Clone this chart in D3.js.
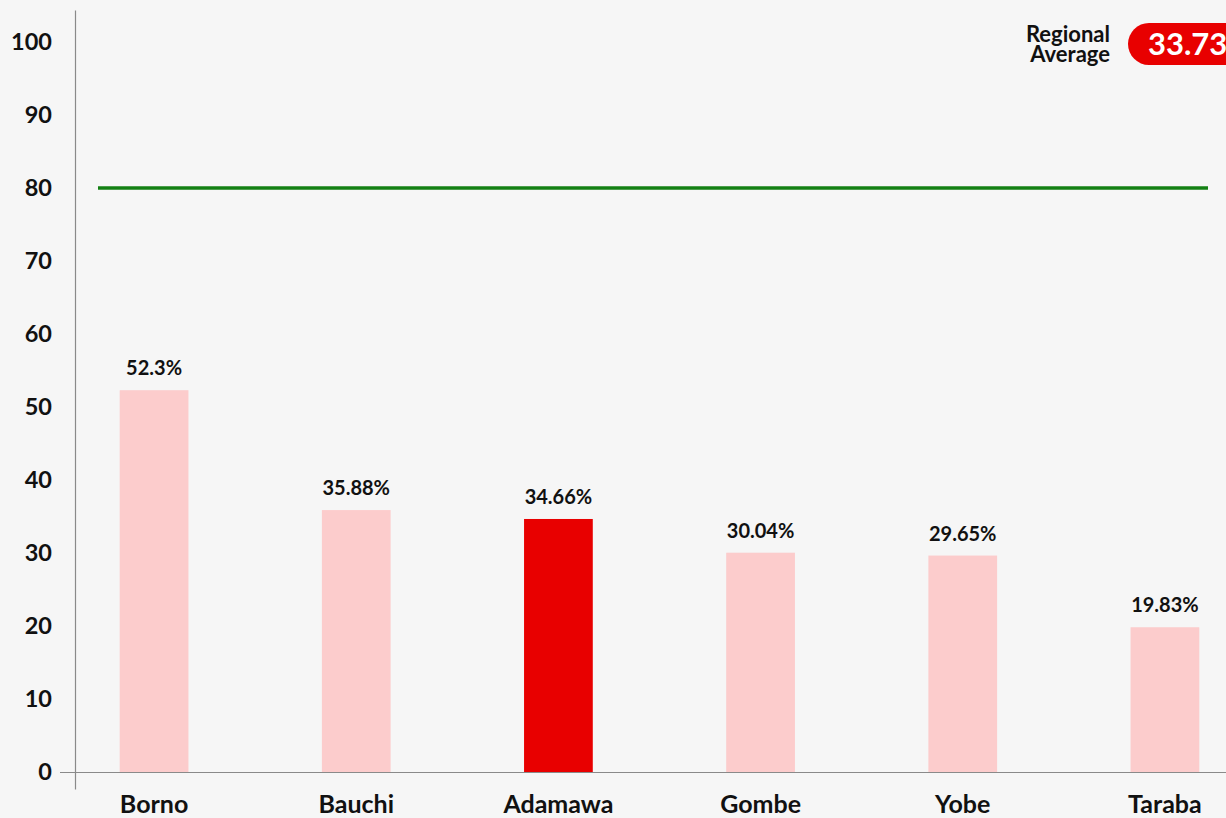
<!DOCTYPE html>
<html lang="en">
<head>
  <meta charset="utf-8">
  <title>State share</title>
  <style>
    html, body { margin: 0; padding: 0; background: #f6f6f6; }
    body { font-family: Lato, "Open Sans", sans-serif; }
    svg { display: block; }
  </style>
</head>
<body>
  <div id="chart"></div>

  <script src="https://d3js.org/d3.v7.min.js"></script>
  <script type="text/javascript">
    const states = ['Borno', 'Bauchi', 'Adamawa', 'Gombe', 'Yobe', 'Taraba'];
    const values = [52.3, 35.88, 34.66, 30.04, 29.65, 19.83];
    const highlight = 'Adamawa';
    const yTicks = [0, 10, 20, 30, 40, 50, 60, 70, 80, 90, 100];
    const target = 80;
    const regionalAverage = 33.73;

    const width = 1226;
    const height = 818;

    const x = d3.scaleBand()
      .domain(states)
      .range([53, 1266])
      .paddingInner(0.66)
      .paddingOuter(0.33);

    const y = d3.scaleLinear()
      .domain([0, 100])
      .range([772, 42]);

    const svg = d3.select('#chart').append('svg')
      .attr('width', width)
      .attr('height', height);

    svg.append('rect')
      .attr('width', width)
      .attr('height', height)
      .attr('fill', '#f6f6f6');

    // y axis: labels only, plus the vertical rule
    const yAxis = d3.axisLeft(y)
      .tickValues(yTicks)
      .tickSize(0)
      .tickPadding(0);

    const gy = svg.append('g')
      .attr('transform', 'translate(52,0)')
      .call(yAxis);
    gy.select('.domain').remove();
    gy.selectAll('text')
      .attr('fill', '#111')
      .style('font-family', 'Lato, sans-serif')
      .style('font-weight', 700)
      .style('font-size', '23.5px');

    svg.append('line')
      .attr('x1', 75.5).attr('x2', 75.5)
      .attr('y1', y(104.3)).attr('y2', y(-2.4))
      .attr('stroke', '#8a8a8a')
      .attr('stroke-width', 1.2);

    svg.append('line')
      .attr('x1', 60).attr('x2', width)
      .attr('y1', y(0) + 0.5).attr('y2', y(0) + 0.5)
      .attr('stroke', '#8a8a8a')
      .attr('stroke-width', 1.2);

    // x axis labels
    const xAxis = d3.axisBottom(x).tickSize(0).tickPadding(0);
    const gx = svg.append('g')
      .attr('transform', `translate(0,${y(0) + 23})`)
      .call(xAxis);
    gx.select('.domain').remove();
    gx.selectAll('text')
      .attr('fill', '#111')
      .style('font-family', 'Lato, sans-serif')
      .style('font-weight', 700)
      .style('font-size', '25px');

    // bars
    svg.selectAll('rect.bar')
      .data(states)
      .enter()
      .append('rect')
      .attr('class', 'bar')
      .attr('x', d => x(d))
      .attr('width', x.bandwidth())
      .attr('y', (d, i) => y(values[i]))
      .attr('height', (d, i) => y(0) - y(values[i]))
      .attr('fill', d => d === highlight ? '#e80000' : '#fccccc');

    svg.selectAll('text.val')
      .data(states)
      .enter()
      .append('text')
      .attr('class', 'val')
      .attr('x', d => x(d) + x.bandwidth() / 2)
      .attr('y', (d, i) => y(values[i]) - 15)
      .attr('text-anchor', 'middle')
      .attr('fill', '#111')
      .style('font-weight', 700)
      .style('font-size', '20px')
      .text((d, i) => values[i] + '%');

    // target line
    svg.append('line')
      .attr('x1', 98).attr('x2', 1208)
      .attr('y1', y(target)).attr('y2', y(target))
      .attr('stroke', '#138013')
      .attr('stroke-width', 3.5);

    // regional average badge
    const badge = svg.append('g');
    badge.append('text')
      .attr('x', 1110).attr('y', 42)
      .attr('text-anchor', 'end')
      .attr('fill', '#111')
      .style('font-weight', 700)
      .style('font-size', '22px')
      .text('Regional');
    badge.append('text')
      .attr('x', 1110).attr('y', 62)
      .attr('text-anchor', 'end')
      .attr('fill', '#111')
      .style('font-weight', 700)
      .style('font-size', '22px')
      .text('Average');
    badge.append('rect')
      .attr('x', 1128).attr('y', 23)
      .attr('width', 140).attr('height', 42)
      .attr('rx', 21)
      .attr('fill', '#e80000');
    badge.append('text')
      .attr('x', 1148).attr('y', 55)
      .attr('fill', '#fff')
      .style('font-weight', 700)
      .style('font-size', '31px')
      .text(regionalAverage + '%');
  </script>
</body>
</html>
